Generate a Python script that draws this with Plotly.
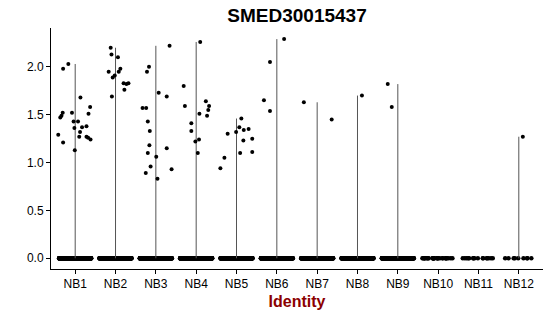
import plotly.graph_objects as go

categories = ["NB1", "NB2", "NB3", "NB4", "NB5", "NB6", "NB7", "NB8", "NB9", "NB10", "NB11", "NB12"]

# number of cells with zero expression per identity (estimated from density of the band)
zero_counts = [400, 350, 400, 380, 330, 280, 260, 250, 220, 30, 16, 9]

# non-zero expression values per identity, with the horizontal jitter
expr_values = {
    "NB1": [1.98, 2.03, 1.68, 1.58, 1.52, 1.52, 1.49, 1.47, 1.51, 1.43, 1.43, 1.36, 1.37, 1.38,
            1.32, 1.29, 1.27, 1.27, 1.26, 1.24, 1.21, 1.13],
    "NB2": [2.20, 2.13, 2.10, 1.95, 1.98, 1.95, 1.91, 1.89, 1.83, 1.82, 1.83, 1.76, 1.69],
    "NB3": [2.22, 2.00, 1.95, 1.73, 1.69, 1.57, 1.57, 1.43, 1.33, 1.18, 1.15, 1.10, 1.06,
            0.96, 0.93, 0.89, 0.83],
    "NB4": [2.26, 1.80, 1.59, 1.64, 1.59, 1.55, 1.51, 1.49, 1.41, 1.33, 1.24, 1.22, 1.10],
    "NB5": [1.46, 1.37, 1.34, 1.35, 1.30, 1.32, 1.25, 1.23, 1.10, 1.11, 1.05, 0.94],
    "NB6": [2.29, 2.05, 1.65, 1.54],
    "NB7": [1.63, 1.45],
    "NB8": [1.70],
    "NB9": [1.82, 1.58],
    "NB10": [],
    "NB11": [],
    "NB12": [1.27],
}
jitter = {
    "NB1": [-0.30, -0.17, 0.13, 0.37, -0.08, -0.31, -0.34, -0.37, 0.33, -0.04, 0.07, -0.02, 0.17,
            0.28, 0.12, -0.42, 0.10, 0.28, 0.32, 0.38, -0.30, -0.01],
    "NB2": [-0.12, -0.10, 0.06, -0.17, 0.12, 0.08, -0.02, -0.07, 0.20, 0.27, 0.32, 0.22, -0.09],
    "NB3": [0.34, -0.17, -0.22, 0.07, 0.27, -0.33, -0.24, -0.20, -0.15, -0.16, 0.27, -0.20, 0.01,
            -0.13, 0.39, -0.25, 0.04],
    "NB4": [0.10, -0.31, -0.28, 0.24, 0.32, 0.30, 0.08, 0.27, -0.12, -0.12, 0.07, -0.02, 0.04],
    "NB5": [0.12, 0.07, 0.18, 0.30, -0.22, -0.01, 0.39, 0.17, 0.09, 0.39, -0.30, -0.40],
    "NB6": [0.18, -0.17, -0.32, -0.17],
    "NB7": [-0.33, 0.36],
    "NB8": [0.11],
    "NB9": [-0.25, -0.15],
    "NB10": [],
    "NB11": [],
    "NB12": [0.10],
}

y_ticks = [0.0, 0.5, 1.0, 1.5, 2.0]
y_tick_labels = ["0.0", "0.5", "1.0", "1.5", "2.0"]

fig = go.Figure()

# violins: degenerate (almost all zeros) -> drawn as their thin vertical extent
for i, cat in enumerate(categories, start=1):
    vals = expr_values[cat]
    if vals:
        fig.add_trace(go.Scatter(
            x=[i, i], y=[0, max(vals)], mode="lines",
            line=dict(color="#555555", width=1), showlegend=False, hoverinfo="skip"))

# zero-valued cells, jittered by plotly
for i, cat in enumerate(categories, start=1):
    n = zero_counts[i - 1]
    fig.add_trace(go.Box(
        x=[i] * n, y=[0.0] * n, boxpoints="all", jitter=1, pointpos=0, width=0.8,
        fillcolor="rgba(0,0,0,0)", line=dict(width=0, color="rgba(0,0,0,0)"),
        marker=dict(color="black", size=4.5), showlegend=False, hoverinfo="skip"))

# non-zero cells
for i, cat in enumerate(categories, start=1):
    vals = expr_values[cat]
    if vals:
        fig.add_trace(go.Scatter(
            x=[i + j for j in jitter[cat]], y=vals, mode="markers",
            marker=dict(color="black", size=4), showlegend=False, hoverinfo="skip"))

font_family = "Liberation Sans, Arial, sans-serif"
fig.update_layout(
    width=550, height=316,
    margin=dict(l=51, r=7, t=28, b=47),
    plot_bgcolor="white", paper_bgcolor="white",
    font=dict(family=font_family, color="black"),
    title=dict(text="<b>SMED30015437</b>", x=297 / 550, xanchor="center",
               y=1 - 15 / 316, yanchor="middle", font=dict(size=19, color="black")),
    xaxis=dict(
        range=[0.4, 12.6], tickmode="array", tickvals=list(range(1, 13)), ticktext=categories,
        showline=True, linecolor="black", linewidth=1, ticks="outside", ticklen=4,
        tickcolor="black", showgrid=False, zeroline=False, tickfont=dict(size=12),
        title=dict(text="<b>Identity</b>", font=dict(size=16, color="#8B0000"), standoff=5)),
    yaxis=dict(
        range=[-0.112, 2.406], tickmode="array", tickvals=y_ticks, ticktext=y_tick_labels,
        showline=True, linecolor="black", linewidth=1, ticks="outside", ticklen=4,
        tickcolor="black", showgrid=False, zeroline=False, tickfont=dict(size=12)),
)

fig.write_html("out.html")
